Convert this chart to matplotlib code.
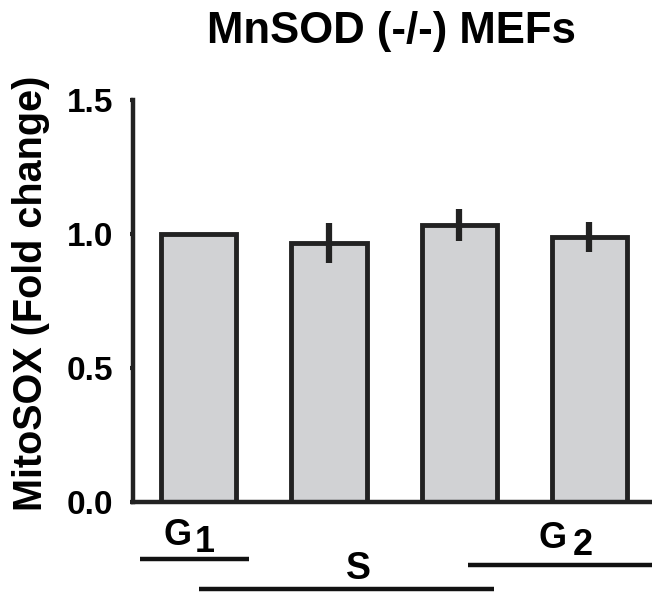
import matplotlib
matplotlib.use('Agg')
import matplotlib.pyplot as plt
import matplotlib.transforms as mtransforms
import numpy as np

plt.rcParams['font.family'] = ['Liberation Sans', 'DejaVu Sans']
plt.rcParams['font.weight'] = 'bold'

# 데이터
means = [1.00, 0.966, 1.035, 0.99]
errs = [0.004, 0.075, 0.06, 0.056]
yticks = [0.0, 0.5, 1.0, 1.5]
tick_labels = ['0.0', '0.5', '1.0', '1.5']

# 세포주기 구간 (막대 위치 기준)
phase_spans = [(-0.45, 0.39), (0.0, 2.27), (2.07, 3.48)]

W, H = 652, 593
fig = plt.figure(figsize=(W / 100, H / 100), dpi=100)
ax = fig.add_axes([133 / W, (H - 502) / H, (W - 133) / W, 402 / H])

x = np.arange(len(means))
ax.bar(x, means, width=0.577, color='#d1d2d4', edgecolor='#222222', linewidth=3.5, zorder=2)
ax.errorbar(x, means, yerr=errs, fmt='none', ecolor='#222222', elinewidth=4.5, capsize=0, zorder=3)

ax.set_xlim(-0.504, 3.48)
ax.set_ylim(0, 1.5)
ax.set_yticks(yticks)
ax.set_yticklabels(tick_labels, fontsize=24, fontweight='bold')
ax.set_xticks([])
for s in ['top', 'right']:
    ax.spines[s].set_visible(False)
for s in ['left', 'bottom']:
    ax.spines[s].set_linewidth(3.2)
    ax.spines[s].set_color('#222222')
ax.tick_params(axis='y', length=2, width=3, color='#222222', pad=12)

# 아래쪽 구간 표시
trans = mtransforms.blended_transform_factory(ax.transData, ax.transAxes)
line_y = [-0.142, -0.216, -0.157]
for (x0, x1), ly in zip(phase_spans, line_y):
    ax.plot([x0, x1], [ly, ly], color='#111111', linewidth=3.2, transform=trans,
            clip_on=False, solid_capstyle='butt')

ax.text(-0.273, -0.107, 'G', transform=trans, fontsize=26, fontweight='bold', va='baseline', ha='left')
ax.text(-0.027, -0.124, '1', transform=trans, fontsize=26, fontweight='bold', va='baseline', ha='left')
ax.text(1.227, -0.192, 'S', transform=trans, fontsize=27, fontweight='bold', va='baseline', ha='center')
ax.text(2.61, -0.114, 'G', transform=trans, fontsize=26, fontweight='bold', va='baseline', ha='left')
ax.text(2.873, -0.132, '2', transform=trans, fontsize=26, fontweight='bold', va='baseline', ha='left')

fig.text(391 / W, 1 - 43 / H, 'MnSOD (-/-) MEFs', fontsize=31.5, fontweight='bold',
         ha='center', va='baseline')
fig.text(31 / W, 1 - 293 / H, 'MitoSOX (Fold change)', fontsize=28.5, fontweight='bold',
         ha='center', va='center', rotation=90)

fig.savefig('out.png', dpi=100)
